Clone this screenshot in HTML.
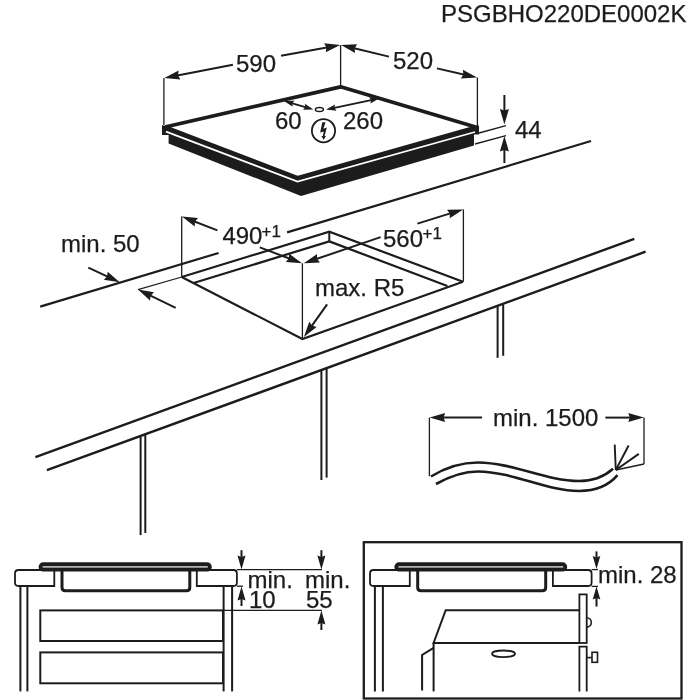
<!DOCTYPE html>
<html><head><meta charset="utf-8"><style>
html,body{margin:0;padding:0;background:#ffffff;}
svg{display:block;will-change:transform;}
text{stroke:#1c1c1c;stroke-width:0.25px;font-family:"Liberation Sans",sans-serif;fill:#1c1c1c;}
</style></head><body>
<svg width="700" height="700" viewBox="0 0 700 700">
<rect width="700" height="700" fill="#ffffff"/>
<polygon points="162.00,125.00 297.00,176.00 479.00,125.50 479.00,134.50 474.00,134.50 474.00,145.50 301.00,196.00 168.60,143.50 168.60,135.00 162.00,135.00" fill="#1c1c1c" stroke="none" stroke-width="0" />
<polyline points="166.00,131.60 297.50,181.60 475.00,132.00" fill="none" stroke="#ffffff" stroke-width="1.8" stroke-linejoin="miter"/>
<polygon points="165.00,127.00 340.60,86.80 476.50,127.20 297.50,177.80" fill="#ffffff" stroke="#1c1c1c" stroke-width="3.8" stroke-linejoin="bevel"/>
<line x1="163.90" y1="77.90" x2="163.90" y2="125.00" stroke="#1c1c1c" stroke-width="1.3" stroke-linecap="butt"/>
<line x1="340.60" y1="45.00" x2="340.60" y2="86.00" stroke="#1c1c1c" stroke-width="1.3" stroke-linecap="butt"/>
<line x1="477.40" y1="77.60" x2="477.40" y2="126.00" stroke="#1c1c1c" stroke-width="1.3" stroke-linecap="butt"/>
<line x1="232.90" y1="64.80" x2="173.43" y2="76.16" stroke="#1c1c1c" stroke-width="2.0" stroke-linecap="butt"/>
<polygon points="164.30,77.90 180.37,79.41 178.05,75.27 178.68,70.57" fill="#1c1c1c" stroke="none" stroke-width="0" />
<line x1="281.00" y1="55.80" x2="331.05" y2="46.67" stroke="#1c1c1c" stroke-width="2.0" stroke-linecap="butt"/>
<polygon points="340.20,45.00 324.14,43.35 326.43,47.51 325.76,52.21" fill="#1c1c1c" stroke="none" stroke-width="0" />
<text x="236" y="71.7" font-size="24" text-anchor="start" >590</text>
<line x1="389.00" y1="56.60" x2="350.04" y2="47.18" stroke="#1c1c1c" stroke-width="2.0" stroke-linecap="butt"/>
<polygon points="341.00,45.00 355.01,53.02 354.61,48.29 357.12,44.27" fill="#1c1c1c" stroke="none" stroke-width="0" />
<line x1="437.00" y1="68.40" x2="467.94" y2="75.52" stroke="#1c1c1c" stroke-width="2.0" stroke-linecap="butt"/>
<polygon points="477.00,77.60 462.90,69.74 463.36,74.46 460.89,78.51" fill="#1c1c1c" stroke="none" stroke-width="0" />
<text x="393" y="69" font-size="24" text-anchor="start" >520</text>
<line x1="288.80" y1="102.40" x2="308.70" y2="108.20" stroke="#1c1c1c" stroke-width="1.9" stroke-linecap="butt"/>
<polygon points="284.00,101.00 292.70,106.87 292.16,103.38 294.50,100.73" fill="#1c1c1c" stroke="none" stroke-width="0" />
<polygon points="313.50,109.60 304.80,103.73 305.34,107.22 303.00,109.87" fill="#1c1c1c" stroke="none" stroke-width="0" />
<line x1="330.89" y1="108.57" x2="374.61" y2="99.33" stroke="#1c1c1c" stroke-width="1.9" stroke-linecap="butt"/>
<polygon points="326.00,109.60 336.45,110.66 334.32,107.84 335.12,104.40" fill="#1c1c1c" stroke="none" stroke-width="0" />
<polygon points="379.50,98.30 369.05,97.24 371.18,100.06 370.38,103.50" fill="#1c1c1c" stroke="none" stroke-width="0" />
<ellipse cx="319.4" cy="109.6" rx="4" ry="2" fill="none" stroke="#1c1c1c" stroke-width="1.5"/>
<text x="275" y="128.6" font-size="24" text-anchor="start" >60</text>
<text x="343" y="129.4" font-size="24" text-anchor="start" >260</text>
<circle cx="323.5" cy="130.7" r="11.6" fill="none" stroke="#1c1c1c" stroke-width="1.8"/>
<polygon points="322.30,122.30 325.50,122.30 323.40,128.80 326.80,127.60 324.60,136.00 326.00,136.00 323.60,139.80 321.40,136.00 322.80,136.00 323.80,131.60 320.20,132.40" fill="#1c1c1c" stroke="none" stroke-width="0" />
<line x1="479.00" y1="133.00" x2="506.00" y2="125.60" stroke="#1c1c1c" stroke-width="1.3" stroke-linecap="butt"/>
<line x1="475.00" y1="144.00" x2="506.00" y2="135.60" stroke="#1c1c1c" stroke-width="1.3" stroke-linecap="butt"/>
<line x1="504.40" y1="95.00" x2="504.40" y2="115.20" stroke="#1c1c1c" stroke-width="2.0" stroke-linecap="butt"/>
<polygon points="504.40,124.50 508.90,109.00 504.40,110.50 499.90,109.00" fill="#1c1c1c" stroke="none" stroke-width="0" />
<line x1="504.40" y1="163.00" x2="504.40" y2="145.30" stroke="#1c1c1c" stroke-width="2.0" stroke-linecap="butt"/>
<polygon points="504.40,136.00 499.90,151.50 504.40,150.00 508.90,151.50" fill="#1c1c1c" stroke="none" stroke-width="0" />
<text x="515" y="138" font-size="24" text-anchor="start" >44</text>
<line x1="40.20" y1="306.60" x2="218.60" y2="253.00" stroke="#1c1c1c" stroke-width="2.2" stroke-linecap="butt"/>
<line x1="287.10" y1="232.40" x2="591.00" y2="141.00" stroke="#1c1c1c" stroke-width="2.2" stroke-linecap="butt"/>
<line x1="35.40" y1="457.10" x2="634.30" y2="238.90" stroke="#1c1c1c" stroke-width="2.4" stroke-linecap="butt"/>
<line x1="46.90" y1="470.20" x2="645.60" y2="251.70" stroke="#1c1c1c" stroke-width="2.4" stroke-linecap="butt"/>
<line x1="140.60" y1="436.30" x2="140.60" y2="535.10" stroke="#1c1c1c" stroke-width="2.0" stroke-linecap="butt"/>
<line x1="145.30" y1="434.90" x2="145.30" y2="532.90" stroke="#1c1c1c" stroke-width="2.0" stroke-linecap="butt"/>
<line x1="321.40" y1="370.00" x2="321.40" y2="480.00" stroke="#1c1c1c" stroke-width="2.0" stroke-linecap="butt"/>
<line x1="326.60" y1="369.00" x2="326.60" y2="477.60" stroke="#1c1c1c" stroke-width="2.0" stroke-linecap="butt"/>
<line x1="497.60" y1="306.30" x2="497.60" y2="357.80" stroke="#1c1c1c" stroke-width="2.0" stroke-linecap="butt"/>
<line x1="503.20" y1="304.40" x2="503.20" y2="355.80" stroke="#1c1c1c" stroke-width="2.0" stroke-linecap="butt"/>
<polyline points="181.70,277.00 302.40,339.00 463.00,281.70" fill="none" stroke="#1c1c1c" stroke-width="2.2" stroke-linejoin="miter"/>
<polyline points="181.70,277.00 329.30,231.70 463.00,281.70" fill="none" stroke="#1c1c1c" stroke-width="2.2" stroke-linejoin="miter"/>
<line x1="138.00" y1="289.60" x2="181.70" y2="277.00" stroke="#1c1c1c" stroke-width="1.3" stroke-linecap="butt"/>
<line x1="193.60" y1="283.00" x2="329.30" y2="241.40" stroke="#1c1c1c" stroke-width="2.2" stroke-linecap="butt"/>
<line x1="329.30" y1="231.70" x2="329.30" y2="241.40" stroke="#1c1c1c" stroke-width="2.0" stroke-linecap="butt"/>
<line x1="329.30" y1="241.40" x2="447.40" y2="286.00" stroke="#1c1c1c" stroke-width="2.2" stroke-linecap="butt"/>
<line x1="181.70" y1="216.50" x2="181.70" y2="277.00" stroke="#1c1c1c" stroke-width="1.3" stroke-linecap="butt"/>
<line x1="302.40" y1="263.30" x2="302.40" y2="339.00" stroke="#1c1c1c" stroke-width="1.3" stroke-linecap="butt"/>
<line x1="463.40" y1="209.40" x2="463.40" y2="281.70" stroke="#1c1c1c" stroke-width="1.3" stroke-linecap="butt"/>
<line x1="217.40" y1="230.40" x2="190.57" y2="219.97" stroke="#1c1c1c" stroke-width="2.0" stroke-linecap="butt"/>
<polygon points="181.90,216.60 194.72,226.41 194.95,221.67 197.98,218.02" fill="#1c1c1c" stroke="none" stroke-width="0" />
<line x1="259.80" y1="247.40" x2="293.30" y2="260.02" stroke="#1c1c1c" stroke-width="2.0" stroke-linecap="butt"/>
<polygon points="302.00,263.30 289.08,253.62 288.90,258.36 285.91,262.05" fill="#1c1c1c" stroke="none" stroke-width="0" />
<text x="222.4" y="243.7" font-size="24" text-anchor="start" >490</text>
<text x="261.5" y="236.6" font-size="17" text-anchor="start" >+1</text>
<line x1="380.60" y1="237.10" x2="312.60" y2="260.30" stroke="#1c1c1c" stroke-width="2.0" stroke-linecap="butt"/>
<polygon points="303.80,263.30 319.92,262.55 317.05,258.78 317.02,254.04" fill="#1c1c1c" stroke="none" stroke-width="0" />
<line x1="417.40" y1="223.60" x2="454.32" y2="212.15" stroke="#1c1c1c" stroke-width="2.0" stroke-linecap="butt"/>
<polygon points="463.20,209.40 447.06,209.69 449.83,213.55 449.73,218.29" fill="#1c1c1c" stroke="none" stroke-width="0" />
<text x="383" y="246.6" font-size="24" text-anchor="start" >560</text>
<text x="422.5" y="239.0" font-size="17" text-anchor="start" >+1</text>
<line x1="88.30" y1="267.70" x2="111.36" y2="278.39" stroke="#1c1c1c" stroke-width="2.0" stroke-linecap="butt"/>
<polygon points="119.80,282.30 107.63,271.70 107.10,276.41 103.84,279.86" fill="#1c1c1c" stroke="none" stroke-width="0" />
<line x1="175.70" y1="307.80" x2="146.38" y2="293.64" stroke="#1c1c1c" stroke-width="2.0" stroke-linecap="butt"/>
<polygon points="138.00,289.60 150.00,300.39 150.61,295.69 153.91,292.29" fill="#1c1c1c" stroke="none" stroke-width="0" />
<text x="61" y="252" font-size="24" text-anchor="start" >min. 50</text>
<line x1="327.10" y1="304.40" x2="309.30" y2="329.33" stroke="#1c1c1c" stroke-width="2.0" stroke-linecap="butt"/>
<polygon points="303.90,336.90 316.57,326.90 312.03,325.51 309.24,321.67" fill="#1c1c1c" stroke="none" stroke-width="0" />
<text x="315" y="296" font-size="24" text-anchor="start" >max. R5</text>
<line x1="429.40" y1="417.60" x2="429.40" y2="476.20" stroke="#1c1c1c" stroke-width="1.3" stroke-linecap="butt"/>
<line x1="644.00" y1="417.60" x2="644.00" y2="464.00" stroke="#1c1c1c" stroke-width="1.3" stroke-linecap="butt"/>
<line x1="482.10" y1="417.60" x2="438.90" y2="417.60" stroke="#1c1c1c" stroke-width="2.0" stroke-linecap="butt"/>
<polygon points="429.60,417.60 445.10,422.10 443.60,417.60 445.10,413.10" fill="#1c1c1c" stroke="none" stroke-width="0" />
<line x1="605.40" y1="417.60" x2="634.50" y2="417.60" stroke="#1c1c1c" stroke-width="2.0" stroke-linecap="butt"/>
<polygon points="643.80,417.60 628.30,413.10 629.80,417.60 628.30,422.10" fill="#1c1c1c" stroke="none" stroke-width="0" />
<text x="493" y="425.5" font-size="24" text-anchor="start" >min. 1500</text>
<path d="M431,476.5 C448,466 462,462.5 478,462.5 C514,463 546,481 579,481 C594,481 605,476 613,468.7" fill="none" stroke="#1c1c1c" stroke-width="2.6"/>
<path d="M436,484 C452,475 464,471.5 478,471.5 C514,472 546,491 579,491 C598,491 610,484 617.5,475.2" fill="none" stroke="#1c1c1c" stroke-width="2.6"/>
<line x1="615.80" y1="470.00" x2="614.70" y2="444.60" stroke="#1c1c1c" stroke-width="1.9" stroke-linecap="butt"/>
<line x1="615.80" y1="470.00" x2="628.60" y2="445.50" stroke="#1c1c1c" stroke-width="1.9" stroke-linecap="butt"/>
<line x1="615.80" y1="470.00" x2="638.80" y2="453.90" stroke="#1c1c1c" stroke-width="1.9" stroke-linecap="butt"/>
<line x1="615.80" y1="470.00" x2="644.00" y2="464.00" stroke="#1c1c1c" stroke-width="1.3" stroke-linecap="butt"/>
<path d="M54.3,570 H18.5 Q15,570 15,573.5 V582.5 Q15,586 18.5,586 H54.3 Z" fill="#ffffff" stroke="#1c1c1c" stroke-width="1.8" stroke-linejoin="miter"/>
<path d="M196.8,570 H233.4 Q236.9,570 236.9,573.5 V582.5 Q236.9,586 233.4,586 H196.8 Z" fill="#ffffff" stroke="#1c1c1c" stroke-width="1.8" stroke-linejoin="miter"/>
<path d="M62,571 V587.5 Q62,590.8 65.3,590.8 H186.5 Q189.8,590.8 189.8,587.5 V571" fill="#ffffff" stroke="#1c1c1c" stroke-width="3"/>
<rect x="38.6" y="562.3" width="173.20000000000002" height="9.2" rx="4.6" fill="#1c1c1c"/>
<line x1="42.60" y1="566.90" x2="207.80" y2="566.90" stroke="#b4b4b4" stroke-width="1.7" stroke-linecap="butt"/>
<line x1="20.40" y1="586.50" x2="20.40" y2="691.40" stroke="#1c1c1c" stroke-width="2.0" stroke-linecap="butt"/>
<line x1="27.40" y1="586.50" x2="27.40" y2="691.40" stroke="#1c1c1c" stroke-width="2.0" stroke-linecap="butt"/>
<line x1="223.60" y1="586.50" x2="223.60" y2="691.40" stroke="#1c1c1c" stroke-width="2.0" stroke-linecap="butt"/>
<line x1="232.10" y1="586.50" x2="232.10" y2="691.40" stroke="#1c1c1c" stroke-width="2.0" stroke-linecap="butt"/>
<rect x="40.3" y="610.4" width="182.7" height="30.6" fill="none" stroke="#1c1c1c" stroke-width="2"/>
<rect x="40.3" y="652.4" width="182.7" height="30.9" fill="none" stroke="#1c1c1c" stroke-width="2"/>
<line x1="236.90" y1="569.70" x2="321.90" y2="569.70" stroke="#1c1c1c" stroke-width="1.3" stroke-linecap="butt"/>
<line x1="236.90" y1="586.20" x2="243.00" y2="586.20" stroke="#1c1c1c" stroke-width="1.3" stroke-linecap="butt"/>
<line x1="223.00" y1="610.30" x2="321.90" y2="610.30" stroke="#1c1c1c" stroke-width="1.3" stroke-linecap="butt"/>
<line x1="241.50" y1="550.20" x2="241.50" y2="561.10" stroke="#1c1c1c" stroke-width="2.0" stroke-linecap="butt"/>
<polygon points="241.50,569.50 245.50,555.50 241.50,557.00 237.50,555.50" fill="#1c1c1c" stroke="none" stroke-width="0" />
<line x1="321.40" y1="550.20" x2="321.40" y2="561.10" stroke="#1c1c1c" stroke-width="2.0" stroke-linecap="butt"/>
<polygon points="321.40,569.50 325.40,555.50 321.40,557.00 317.40,555.50" fill="#1c1c1c" stroke="none" stroke-width="0" />
<line x1="241.50" y1="606.00" x2="241.50" y2="595.00" stroke="#1c1c1c" stroke-width="2.0" stroke-linecap="butt"/>
<polygon points="241.50,586.60 237.50,600.60 241.50,599.10 245.50,600.60" fill="#1c1c1c" stroke="none" stroke-width="0" />
<line x1="321.40" y1="630.00" x2="321.40" y2="618.80" stroke="#1c1c1c" stroke-width="2.0" stroke-linecap="butt"/>
<polygon points="321.40,610.40 317.40,624.40 321.40,622.90 325.40,624.40" fill="#1c1c1c" stroke="none" stroke-width="0" />
<text x="247.5" y="588" font-size="24" text-anchor="start" >min.</text>
<text x="249" y="607.8" font-size="24" text-anchor="start" >10</text>
<text x="305" y="588" font-size="24" text-anchor="start" >min.</text>
<text x="306" y="607.8" font-size="24" text-anchor="start" >55</text>
<rect x="363.8" y="542.2" width="317.7" height="156.3" fill="none" stroke="#1c1c1c" stroke-width="2.3"/>
<path d="M409.8,570 H373.5 Q370,570 370,573.5 V582.5 Q370,586 373.5,586 H409.8 Z" fill="#ffffff" stroke="#1c1c1c" stroke-width="1.8" stroke-linejoin="miter"/>
<path d="M552.9,570 H588.1 Q591.6,570 591.6,573.5 V582.5 Q591.6,586 588.1,586 H552.9 Z" fill="#ffffff" stroke="#1c1c1c" stroke-width="1.8" stroke-linejoin="miter"/>
<path d="M417.7,571 V587.5 Q417.7,590.8 421.0,590.8 H542.4000000000001 Q545.7,590.8 545.7,587.5 V571" fill="#ffffff" stroke="#1c1c1c" stroke-width="3"/>
<rect x="394.4" y="562.3" width="172.80000000000007" height="9.2" rx="4.6" fill="#1c1c1c"/>
<line x1="398.40" y1="566.90" x2="563.20" y2="566.90" stroke="#b4b4b4" stroke-width="1.7" stroke-linecap="butt"/>
<line x1="374.90" y1="586.50" x2="374.90" y2="691.50" stroke="#1c1c1c" stroke-width="2.0" stroke-linecap="butt"/>
<line x1="382.90" y1="586.50" x2="382.90" y2="691.50" stroke="#1c1c1c" stroke-width="2.0" stroke-linecap="butt"/>
<polyline points="579.40,610.20 445.70,610.20 433.60,642.90 579.40,642.90" fill="none" stroke="#1c1c1c" stroke-width="2.0" stroke-linejoin="miter"/>
<line x1="433.60" y1="642.90" x2="433.60" y2="691.40" stroke="#1c1c1c" stroke-width="2.0" stroke-linecap="butt"/>
<polyline points="433.60,647.90 422.10,655.00 422.10,690.50" fill="none" stroke="#1c1c1c" stroke-width="2.0" stroke-linejoin="miter"/>
<ellipse cx="503.5" cy="653.8" rx="11.5" ry="3.3" fill="none" stroke="#1c1c1c" stroke-width="1.8"/>
<rect x="579.4" y="594.4" width="7.3" height="48.6" fill="#ffffff" stroke="#1c1c1c" stroke-width="1.8"/>
<polyline points="579.40,691.60 579.40,646.70 586.70,646.70 586.70,691.60" fill="none" stroke="#1c1c1c" stroke-width="1.8" stroke-linejoin="miter"/>
<path d="M586.7,617.8 A4.6,4.6 0 0 1 586.7,627" fill="none" stroke="#1c1c1c" stroke-width="1.6"/>
<line x1="586.70" y1="657.60" x2="592.00" y2="657.60" stroke="#1c1c1c" stroke-width="1.6" stroke-linecap="butt"/>
<rect x="592" y="652.3" width="5.5" height="10" fill="none" stroke="#1c1c1c" stroke-width="1.6"/>
<line x1="591.60" y1="569.60" x2="598.00" y2="569.60" stroke="#1c1c1c" stroke-width="1.3" stroke-linecap="butt"/>
<line x1="591.60" y1="586.40" x2="598.00" y2="586.40" stroke="#1c1c1c" stroke-width="1.3" stroke-linecap="butt"/>
<line x1="596.50" y1="551.40" x2="596.50" y2="561.10" stroke="#1c1c1c" stroke-width="2.0" stroke-linecap="butt"/>
<polygon points="596.50,568.90 600.30,555.90 596.50,557.40 592.70,555.90" fill="#1c1c1c" stroke="none" stroke-width="0" />
<line x1="596.50" y1="606.60" x2="596.50" y2="594.40" stroke="#1c1c1c" stroke-width="2.0" stroke-linecap="butt"/>
<polygon points="596.50,586.60 592.70,599.60 596.50,598.10 600.30,599.60" fill="#1c1c1c" stroke="none" stroke-width="0" />
<text x="598" y="583" font-size="24" text-anchor="start" >min. 28</text>
<text x="441" y="22.4" font-size="24" text-anchor="start" >PSGBHO220DE0002K</text>
</svg></body></html>
